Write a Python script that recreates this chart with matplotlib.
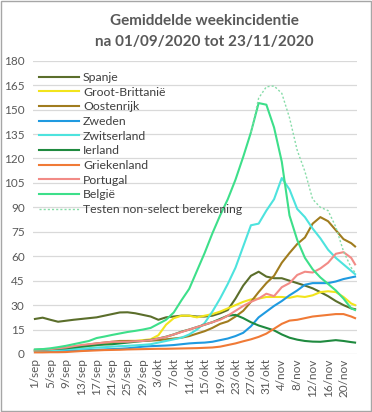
import numpy as np
import matplotlib
matplotlib.use("Agg")
import matplotlib.pyplot as plt
from matplotlib.patches import Rectangle

plt.rcParams["font.family"] = ["Lato", "DejaVu Sans"]

# day index from 1/sep/2020, sampled every 2 days (+ last day 23/nov)
days = list(range(0, 83, 2)) + [83]

tick_labels = ["1/sep", "5/sep", "9/sep", "13/sep", "17/sep", "21/sep", "25/sep",
               "29/sep", "3/okt", "7/okt", "11/okt", "15/okt", "19/okt", "23/okt",
               "27/okt", "31/okt", "4/nov", "8/nov", "12/nov", "16/nov", "20/nov"]

spanje = [21.5, 22.3, 21, 19.8, 20.4, 21, 21.5, 22, 22.5, 23.5, 24.5, 25.5, 25.6, 25,
          24, 23, 21, 22.5, 23, 23.5, 23.5, 23, 23, 23.5, 25, 27, 34, 42, 48, 50.5,
          47.5, 46.5, 46.5, 45, 43.5, 42, 40.3, 38, 35.5, 32.5, 30, 28, 27.5]
groot_brittannie = [2, 2.2, 2.5, 3, 3.5, 4, 4.5, 5, 5.5, 6.2, 7, 7.5, 8, 8, 8.5, 9,
                    11.5, 18, 22, 23.5, 23.5, 22.5, 23.5, 24.5, 26, 28, 30, 32, 33.5,
                    34, 35, 35, 35, 34.5, 35.5, 35, 36, 38, 38.5, 38, 35, 31, 30]
oostenrijk = [2, 2.2, 2.5, 3, 3.5, 4.2, 5, 5.8, 6.5, 7, 7.5, 8, 8, 8, 8, 8.2, 8.5, 9,
              9.5, 10, 11, 12.5, 14, 16, 18.5, 20, 23, 26.5, 32, 38, 43.5, 48, 56, 62,
              67.5, 71.5, 80, 84, 81.5, 76, 70.5, 68, 66]
zweden = [1.5, 1.5, 1.6, 1.7, 1.8, 2, 2.2, 2.4, 2.6, 2.8, 3, 3.2, 3.5, 4, 4.5, 4.8, 5,
          5.2, 5.5, 6, 6.5, 6.8, 7, 7.5, 8.5, 9.5, 11, 13, 17, 22.5, 26, 29.5, 32.5,
          36, 39, 42.5, 43.5, 43.5, 43.5, 44.5, 46, 47, 47.5]
zwitserland = [2, 2.1, 2.3, 2.5, 2.8, 3, 3.3, 3.6, 4, 4.2, 4.5, 4.8, 5, 5.3, 5.6, 6, 7,
               8, 9, 10, 12, 15, 19, 26, 34, 43, 53, 66, 79, 80, 88, 95, 108, 101, 89,
               84, 77, 71, 64, 59, 55, 51, 49]
ierland = [2.5, 2.7, 3, 3.2, 3.5, 4, 4.5, 5, 5.5, 5.8, 6, 6.5, 7, 7.5, 8, 8.6, 9.5,
           10.6, 12, 13.7, 15, 16.5, 18, 19.5, 21.5, 23.5, 24, 22, 19.5, 17.5, 16,
           14.5, 12, 10, 8.8, 8, 7.6, 7.5, 8, 8.5, 8, 7.3, 7]
griekenland = [1, 1, 1.1, 1.1, 1.2, 1.5, 1.8, 2, 2.2, 2.4, 2.5, 2.6, 2.8, 2.9, 3, 3.1,
               3.2, 3.2, 3.3, 3.4, 3.5, 3.6, 3.8, 4, 4.5, 5.5, 6.5, 7.8, 9, 10.5, 12.5,
               15.5, 18.5, 20.5, 21, 22, 23, 23.5, 24, 24.5, 24.5, 23, 22]
portugal = [2.5, 2.7, 3, 3.5, 4, 4.8, 5.5, 6, 6.5, 7, 7.5, 7.5, 7.5, 7.8, 8, 8.5, 9.5,
            10.5, 12, 13.5, 15, 16.5, 18, 19.5, 21, 23.5, 26.5, 29.5, 32, 34, 37, 35.5,
            41, 43.5, 48.5, 50.5, 50, 52.5, 56, 61.5, 62.5, 59, 55]
belgie = [2.8, 3, 3.5, 4.2, 5, 6, 7, 8, 9.8, 10.7, 11.7, 12.6, 13.5, 14.2, 15, 16,
          18.5, 21, 25.5, 33, 40, 51, 62, 74, 85, 95, 107, 121, 136, 154, 153, 139,
          118, 85, 70, 59, 52, 47, 43, 39, 34, 28, 27]
# only drawn from 27/okt on
testen_days = [56, 58, 60, 62, 64, 66, 68, 70, 72, 74, 76, 78, 80, 82, 83]
testen = [136, 157, 164, 164.5, 160, 145, 125, 112, 95, 90, 88, 78, 63, 53, 50]

series = [
    ("Spanje", spanje, "#5B6E2B"),
    ("Groot-Brittanië", groot_brittannie, "#F2E41C"),
    ("Oostenrijk", oostenrijk, "#A07C1E"),
    ("Zweden", zweden, "#1F9AE0"),
    ("Zwitserland", zwitserland, "#4DE3DE"),
    ("Ierland", ierland, "#1F8A3F"),
    ("Griekenland", griekenland, "#F07A36"),
    ("Portugal", portugal, "#F28B86"),
    ("België", belgie, "#3DDF8A"),
]

grey = "#595959"

fig = plt.figure(figsize=(3.72, 4.12), dpi=100)
ax = fig.add_axes([33 / 372, 1 - 354 / 412, 324 / 372, 293.3 / 412])

for name, vals, col in series:
    ax.plot(days, vals, color=col, lw=1.5, label=name)
ax.plot(testen_days, testen, color="#86DCA8", lw=1.0, ls=(0, (1.5, 1.5)),
        label="Testen non-select berekening")

ax.set_xlim(-0.5, 83.5)
ax.set_ylim(0, 180)
ax.set_yticks(np.arange(0, 181, 15))
ax.set_xticks(np.arange(0, 84, 4))
ax.set_xticklabels(tick_labels, rotation=90, fontsize=8.5, color=grey)
ax.tick_params(axis="y", labelsize=8.5, labelcolor=grey, length=0, pad=6)
ax.tick_params(axis="x", length=0, pad=3)
ax.grid(axis="y", color="#D9D9D9", lw=0.9)
ax.set_axisbelow(True)
for s in ax.spines.values():
    s.set_visible(False)

leg = fig.legend(loc="upper left", bbox_to_anchor=(39 / 372, 1 - 72 / 412),
                 frameon=False, fontsize=8.8, handlelength=3.3, handletextpad=0.3,
                 labelspacing=0.3, borderpad=0, borderaxespad=0)
for t in leg.get_texts():
    t.set_color("#404040")

fig.text(204 / 372, 1 - 21 / 412, "Gemiddelde weekincidentie", ha="center",
         va="center", fontsize=11, fontweight="bold", color=grey)
fig.text(204 / 372, 1 - 42 / 412, "na 01/09/2020 tot 23/11/2020", ha="center",
         va="center", fontsize=11, fontweight="bold", color=grey)

fig.patches.append(Rectangle((0.002, 0.002), 0.995, 0.995, transform=fig.transFigure,
                             fill=False, edgecolor="#A6A6A6", lw=1))

fig.savefig("out.png", dpi=100)
